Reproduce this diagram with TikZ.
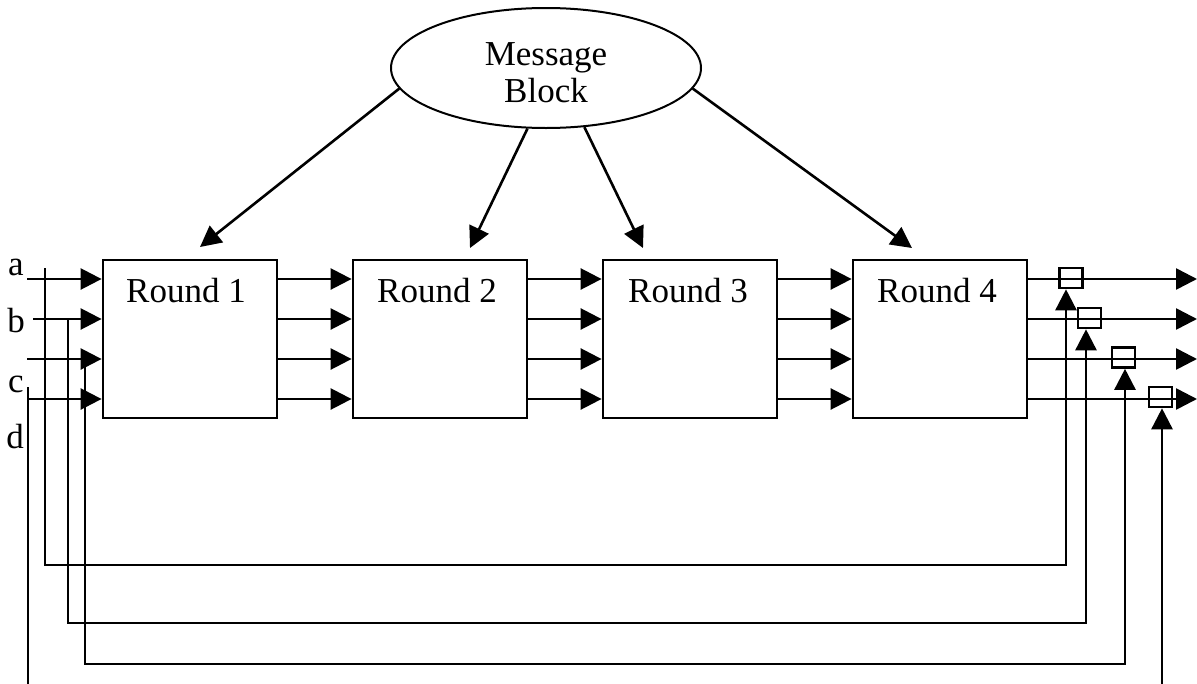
\documentclass[tikz,border=0pt]{standalone}
\usepackage{fontspec}
\setmainfont{Liberation Serif}
\usetikzlibrary{arrows.meta,shapes.geometric}
\begin{document}
\begin{tikzpicture}[x=1pt,y=-1pt,
  wire/.style={line width=2.6pt},
  arr/.style={wire,-{Triangle[length=21pt,width=21pt]}},
  roundbox/.style={draw,line width=2.8pt,minimum width=174pt,minimum height=158pt,inner sep=0pt},
  gate/.style={draw,line width=2.6pt,minimum width=23pt,minimum height=20pt,inner sep=0pt},
  txt/.style={font=\fontsize{35}{37}\selectfont,inner sep=0pt}]
\useasboundingbox (0,0) rectangle (1197,683);
\fill[white] (0,0) rectangle (1197,683);
\clip (0,0) rectangle (1197,683);

% message block
\node[ellipse,draw,line width=2pt,minimum width=310pt,minimum height=120pt,inner sep=0pt] (mb) at (546,68) {};
\node[txt,align=center] (mbt) at (546,73) {Message\\Block};

% the four rounds
\node[roundbox] (r1) at (190,339) {};
\node[roundbox] (r2) at (440,339) {};
\node[roundbox] (r3) at (690,339) {};
\node[roundbox] (r4) at (940,339) {};
\node[txt,anchor=base] (r1t) at (186,302) {Round 1};
\node[txt,anchor=base] (r2t) at (437,302) {Round 2};
\node[txt,anchor=base] (r3t) at (688,302) {Round 3};
\node[txt,anchor=base] (r4t) at (937,302) {Round 4};

% message words fed to each round
\coordinate (t1) at (200,247);
\coordinate (t2) at (470,248);
\coordinate (t3) at (643,248);
\coordinate (t4) at (912,248);
\draw[arr] (mb.188) -- (t1);
\draw[arr] (mb.253) -- (t2);
\draw[arr] (mb.303) -- (t3);
\draw[arr] (mb.352) -- (t4);

% chaining values between rounds
\foreach \y in {279,319,359,399} {
  \draw[arr] (r1.east |- 0,\y) -- (r2.west |- 0,\y);
  \draw[arr] (r2.east |- 0,\y) -- (r3.west |- 0,\y);
  \draw[arr] (r3.east |- 0,\y) -- (r4.west |- 0,\y);
}

% input labels
\node[txt,anchor=base] (la) at (16,275) {a};
\node[txt,anchor=base] (lb) at (16,332) {b};
\node[txt,anchor=base] (lc) at (16,392) {c};
\node[txt,anchor=base] (ld) at (15,448) {d};

% inputs into round 1
\coordinate (ia) at (27,279);
\coordinate (ib) at (33,319);
\coordinate (i3) at (27,359);
\coordinate (ic) at (28,399);
\draw[arr] (ia) -- (r1.west |- ia);
\draw[arr] (ib) -- (r1.west |- ib);
\draw[arr] (i3) -- (r1.west |- i3);
\draw[arr] (ic) -- (r1.west |- ic);

% adders at the output
\node[gate] (g1) at (1071,278) {};
\node[gate] (g2) at (1089.5,318) {};
\node[gate] (g3) at (1123.5,357.5) {};
\node[gate] (g4) at (1160.5,397) {};

% outputs
\coordinate (o1) at (1197,279);
\coordinate (o2) at (1197,319);
\coordinate (o3) at (1197,359);
\coordinate (o4) at (1197,399);
\draw[arr] (r4.east |- o1) -- (o1);
\draw[arr] (r4.east |- o2) -- (o2);
\draw[arr] (r4.east |- o3) -- (o3);
\draw[arr] (r4.east |- o4) -- (o4);

% feed-forward of the inputs to the adders
\coordinate (fa) at (45,268);
\coordinate (fb) at (68,319);
\coordinate (f3) at (85,359);
\coordinate (fc) at (28,387);
\draw[arr] (fa) -- ++(0,297) -| ([xshift=-5pt]g1.south);
\draw[arr] (fb) -- ++(0,304) -| ([xshift=-3.5pt]g2.south);
\draw[arr] (f3) -- ++(0,305) -| ([xshift=1.5pt]g3.south);
\draw[arr] (fc) -- ++(0,313) -| ([xshift=1.5pt]g4.south);
\end{tikzpicture}
\end{document}
